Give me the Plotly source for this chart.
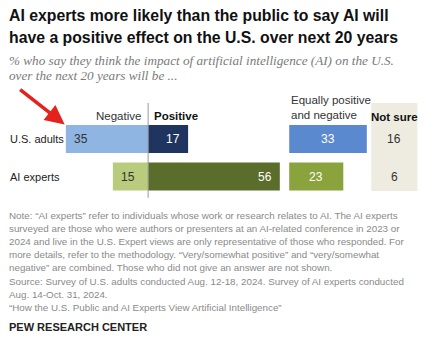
import plotly.graph_objects as go

# Survey results (%)
groups = ["U.S. adults", "AI experts"]
negative = [35, 15]
positive = [17, 56]
equally = [33, 23]
not_sure = [16, 6]

neg_colors = ["#8fb5e2", "#b9cc7d"]
pos_colors = ["#1f355f", "#5b6d2a"]
eq_colors = ["#5b89cf", "#8ba33c"]

EQ_OFFSET = 60      # where the "Equally" column starts on the value axis
NS_CENTER = 104.7   # center of the "Not sure" column

rows = list(range(len(groups)))
BAR_W = 0.75
VAL_FONT = dict(size=12, family="Liberation Sans")

fig = go.Figure()

fig.add_trace(go.Bar(
    y=rows, x=[-v for v in negative], orientation="h", width=BAR_W,
    marker=dict(color=neg_colors, line=dict(width=0)),
    hoverinfo="skip", showlegend=False,
))
fig.add_trace(go.Bar(
    y=rows, x=positive, orientation="h", width=BAR_W,
    marker=dict(color=pos_colors, line=dict(width=0)),
    hoverinfo="skip", showlegend=False,
))
fig.add_trace(go.Bar(
    y=rows, x=equally, base=[EQ_OFFSET] * len(rows), orientation="h", width=BAR_W,
    marker=dict(color=eq_colors, line=dict(width=0)),
    hoverinfo="skip", showlegend=False,
))

# Value labels inside the bars
ann = []
for r in rows:
    ann.append(dict(x=-negative[r], xref="x", y=r, yref="y", text=str(negative[r]),
                    showarrow=False, xanchor="left", xshift=6,
                    font=dict(color="#333333", **VAL_FONT)))
    ann.append(dict(x=positive[r], xref="x", y=r, yref="y", text=str(positive[r]),
                    showarrow=False, xanchor="right", xshift=-6,
                    font=dict(color="white", **VAL_FONT)))
    ann.append(dict(x=EQ_OFFSET + equally[r] / 2, xref="x", y=r, yref="y", text=str(equally[r]),
                    showarrow=False, xanchor="center",
                    font=dict(color="white", **VAL_FONT)))
    ann.append(dict(x=NS_CENTER, xref="x", y=r, yref="y", text=str(not_sure[r]),
                    showarrow=False, xanchor="center",
                    font=dict(color="#333333", **VAL_FONT)))

# "Not sure" column background and zero line
fig.add_shape(type="rect", xref="x", yref="y", x0=94.9, x1=114.5, y0=-0.96, y1=1.39,
              fillcolor="#eeebe1", line=dict(width=0), layer="below")
fig.add_shape(type="line", xref="x", yref="y", x0=0, x1=0, y0=-0.96, y1=1.57,
              line=dict(color="#9a9a9a", width=1))

HDR_FONT = "Liberation Sans"
# Row labels
for r, g in zip(rows, groups):
    ann.append(dict(x=0.018, xref="paper", y=r, yref="y", text=g, showarrow=False,
                    xanchor="left", yanchor="middle",
                    font=dict(size=11, color="#222222", family=HDR_FONT)))
# Column headers
hdr_y = -0.62
ann.append(dict(x=-2, xref="x", y=hdr_y, yref="y", text="Negative", showarrow=False,
                xanchor="right", yanchor="middle",
                font=dict(size=11.5, color="#333333", family=HDR_FONT)))
ann.append(dict(x=1.5, xref="x", y=hdr_y, yref="y", text="<b>Positive</b>", showarrow=False,
                xanchor="left", yanchor="middle",
                font=dict(size=11.5, color="#111111", family=HDR_FONT)))
ann.append(dict(x=EQ_OFFSET - 0.3, xref="x", y=-0.83, yref="y", text="Equally positive<br>and negative",
                showarrow=False, xanchor="left", yanchor="middle", align="left",
                font=dict(size=11.5, color="#333333", family=HDR_FONT)))
ann.append(dict(x=NS_CENTER, xref="x", y=-0.6, yref="y", text="<b>Not sure</b>", showarrow=False,
                xanchor="center", yanchor="middle",
                font=dict(size=11.5, color="#111111", family=HDR_FONT)))

# Title and subtitle
title_lines = ["AI experts more likely than the public to say AI will",
               "have a positive effect on the U.S. over next 20 years"]
for i, line in enumerate(title_lines):
    ann.append(dict(x=0.016, xref="paper", y=1.0, yref="paper", yshift=-15 - 22 * i,
                    text=f"<b>{line}</b>", showarrow=False, xanchor="left", yanchor="middle",
                    font=dict(size=15.8, color="#111111", family="Liberation Sans")))
sub_lines = ["% who say they think the impact of artificial intelligence (AI) on the U.S.",
             "over the next 20 years will be ..."]
for i, line in enumerate(sub_lines):
    ann.append(dict(x=0.016, xref="paper", y=1.0, yref="paper", yshift=-60 - 15.5 * i,
                    text=f"<i>{line}</i>", showarrow=False, xanchor="left", yanchor="middle",
                    font=dict(size=13.2, color="#7a7a7a", family="Liberation Serif")))

# Notes, one line at a time for even spacing
note_lines = [
    "Note: \u201cAI experts\u201d refer to individuals whose work or research relates to AI. The AI experts",
    "surveyed are those who were authors or presenters at an AI-related conference in 2023 or",
    "2024 and live in the U.S. Expert views are only representative of those who responded. For",
    "more details, refer to the methodology. \u201cVery/somewhat positive\u201d and \u201cvery/somewhat",
    "negative\u201d are combined. Those who did not give an answer are not shown.",
    "Source: Survey of U.S. adults conducted Aug. 12-18, 2024. Survey of AI experts conducted",
    "Aug. 14-Oct. 31, 2024.",
    "\u201cHow the U.S. Public and AI Experts View Artificial Intelligence\u201d",
]
for i, line in enumerate(note_lines):
    ann.append(dict(x=0.016, xref="paper", y=1.0, yref="paper", yshift=-215 - 13.2 * i,
                    text=line, showarrow=False, xanchor="left", yanchor="middle",
                    font=dict(size=9.8, color="#8a8a8a", family="Liberation Sans")))
ann.append(dict(x=0.016, xref="paper", y=1.0, yref="paper", yshift=-327,
                text="<b>PEW RESEARCH CENTER</b>", showarrow=False, xanchor="left", yanchor="middle",
                font=dict(size=11, color="#222222", family="Liberation Sans")))

# Red pointer arrow
ann.append(dict(x=-35.5, xref="x", y=-0.39, yref="y", ax=-46, ay=-36, axref="pixel", ayref="pixel",
                text="", showarrow=True, arrowhead=2, arrowsize=1.1, arrowwidth=3.5,
                arrowcolor="#e3221d", standoff=0))

fig.update_layout(
    width=435, height=338,
    margin=dict(l=0, r=0, t=0, b=0),
    paper_bgcolor="white", plot_bgcolor="white",
    barmode="overlay",
    xaxis=dict(range=[-63, 122], visible=False, fixedrange=True),
    yaxis=dict(range=[5.307, -3.707], visible=False, fixedrange=True),
    annotations=ann,
)

fig.write_html("out.html")
